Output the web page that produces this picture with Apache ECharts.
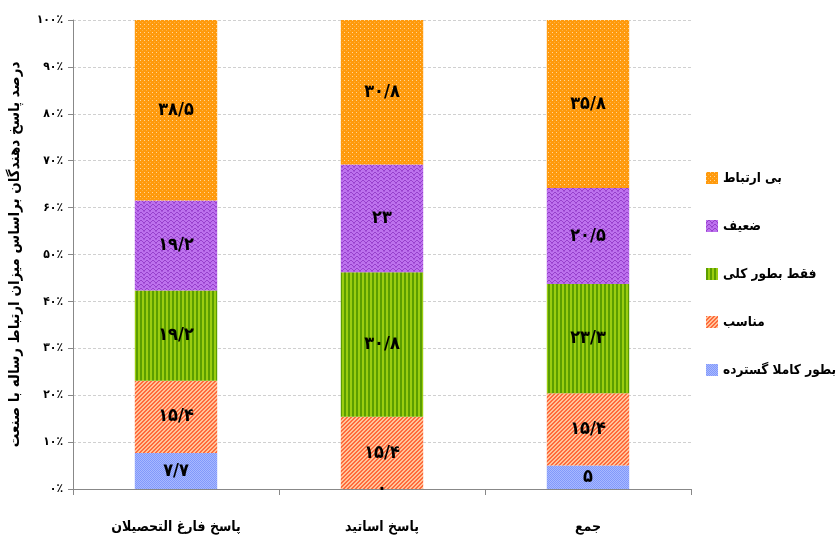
<!DOCTYPE html>
<html>
<head>
<meta charset="utf-8">
<script src="https://cdn.jsdelivr.net/npm/echarts@6/dist/echarts.min.js"></script>
<style>
html,body{margin:0;padding:0;background:#fff;}
#chart{width:840px;height:539px;}
</style>
</head>
<body>
<div id="chart"></div>
<script>
// ---- data ----
const categories = ['پاسخ فارغ التحصیلان', 'پاسخ اساتید', 'جمع'];
const seriesNames = ['بطور کاملا گسترده', 'مناسب', 'فقط بطور کلی', 'ضعیف', 'بی ارتباط'];
const valsExtensive = [7.7, 0, 5];
const valsSuitable = [15.4, 15.4, 15.4];
const valsGeneral = [19.2, 30.8, 23.3];
const valsWeak = [19.2, 23, 20.5];
const valsUnrelated = [38.5, 30.8, 35.8];
const yTicks = [0, 10, 20, 30, 40, 50, 60, 70, 80, 90, 100];
const yAxisTitle = 'درصد پاسخ دهندگان براساس میزان ارتباط رساله با صنعت';

const FONT = '"DejaVu Sans Condensed", "DejaVu Sans", sans-serif';
const faDigits = '۰۱۲۳۴۵۶۷۸۹';
function toFa(s) { return String(s).replace(/[0-9]/g, d => faDigits[+d]).replace('.', '/'); }

function makePattern(w, h, draw) {
  const c = document.createElement('canvas');
  c.width = w; c.height = h;
  const ctx = c.getContext('2d');
  draw(ctx);
  return { image: c, repeat: 'repeat' };
}
const patOrange = makePattern(4, 4, ctx => {
  ctx.fillStyle = '#FF9A0C'; ctx.fillRect(0, 0, 4, 4);
  ctx.fillStyle = '#FFD699'; ctx.fillRect(0, 0, 1, 1);
  ctx.fillStyle = '#FFB040'; ctx.fillRect(2, 2, 1, 1);
});
const patPurple = makePattern(6, 4, ctx => {
  ctx.fillStyle = '#BD72EE'; ctx.fillRect(0, 0, 6, 4);
  ctx.fillStyle = '#9640CC';
  const pts = [[0,2],[1,1],[2,0],[3,0],[4,1],[5,2]];
  pts.forEach(p => ctx.fillRect(p[0], p[1], 1, 1));
  ctx.fillStyle = '#A955DD';
  [[0,3],[5,3]].forEach(p => ctx.fillRect(p[0], p[1], 1, 1));
});
const patGreen = makePattern(4, 4, ctx => {
  ctx.fillStyle = '#9ACD10'; ctx.fillRect(0, 0, 4, 4);
  ctx.fillStyle = '#5B9E00'; ctx.fillRect(0, 0, 2, 4);
});
const patRed = makePattern(4, 4, ctx => {
  ctx.fillStyle = '#FFC49A'; ctx.fillRect(0, 0, 4, 4);
  ctx.fillStyle = '#FF6A3C';
  for (let i = 0; i < 4; i++) { ctx.fillRect((i + 0) % 4, 3 - i, 1, 1); ctx.fillRect((i + 1) % 4, 3 - i, 1, 1); }
});
const patBlue = makePattern(4, 4, ctx => {
  ctx.fillStyle = '#A8B8FF'; ctx.fillRect(0, 0, 4, 4);
  ctx.fillStyle = '#8199FA';
  ctx.fillRect(0, 0, 1, 1); ctx.fillRect(2, 0, 1, 1); ctx.fillRect(1, 1, 1, 1); ctx.fillRect(3, 1, 1, 1);
  ctx.fillRect(0, 2, 1, 1); ctx.fillRect(2, 2, 1, 1); ctx.fillRect(1, 3, 1, 1); ctx.fillRect(3, 3, 1, 1);
});

const allVals = [valsExtensive, valsSuitable, valsGeneral, valsWeak, valsUnrelated];
const pats = [patBlue, patRed, patGreen, patPurple, patOrange];

const series = allVals.map((v, i) => ({
  name: seriesNames[i],
  type: 'bar',
  stack: 'total',
  barWidth: '40%',
  data: v,
  itemStyle: { color: pats[i] },
  label: {
    show: true,
    position: 'inside',
    color: '#000',
    fontFamily: FONT,
    fontWeight: 'bold',
    fontSize: 18,
    formatter: p => toFa(p.value)
  }
}));

const chart = echarts.init(document.getElementById('chart'));
chart.setOption({
  animation: false,
  backgroundColor: '#fff',
  grid: { left: 73, right: 149, top: 20, bottom: 50, containLabel: false },
  legend: {
    orient: 'vertical',
    left: 701,
    top: 166,
    itemWidth: 12,
    itemHeight: 12,
    itemGap: 34,
    icon: 'rect',
    data: seriesNames.slice().reverse(),
    textStyle: { fontFamily: FONT, fontWeight: 'bold', fontSize: 13.5, color: '#000' }
  },
  xAxis: {
    type: 'category',
    data: categories,
    axisLine: { lineStyle: { color: '#888' } },
    axisTick: { show: true, length: 6, lineStyle: { color: '#888' } },
    axisLabel: { margin: 31, color: '#000', fontFamily: FONT, fontWeight: 'bold', fontSize: 14 }
  },
  yAxis: {
    type: 'value',
    min: yTicks[0],
    max: yTicks[yTicks.length - 1],
    interval: 10,
    name: yAxisTitle,
    nameLocation: 'middle',
    nameGap: 50,
    nameRotate: 90,
    nameTextStyle: { fontFamily: FONT, fontWeight: 'bold', fontSize: 15, color: '#000' },
    axisLine: { show: true, lineStyle: { color: '#888' } },
    axisTick: { show: true, length: 5, lineStyle: { color: '#888' } },
    splitLine: { lineStyle: { type: [3, 2], color: '#d0d0d0' } },
    axisLabel: { margin: 10, color: '#000', fontFamily: FONT, fontWeight: 'bold', fontSize: 12, formatter: v => toFa(v) + '٪' }
  },
  series: series
});
</script>
</body>
</html>
